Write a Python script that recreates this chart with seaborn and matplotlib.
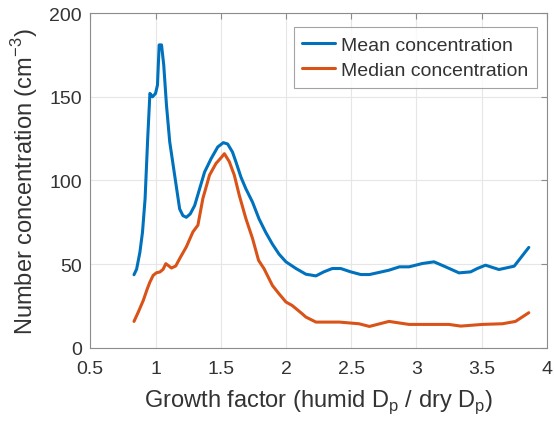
import matplotlib
matplotlib.use("Agg")
import matplotlib.pyplot as plt
import numpy as np
import pandas as pd
import seaborn as sns

# growth factor samples and concentrations
mean_gf = [0.835, 0.855, 0.88, 0.90, 0.92, 0.94, 0.957, 0.977, 1.0, 1.015, 1.028, 1.046,
           1.063, 1.084, 1.109, 1.147, 1.185, 1.21, 1.236, 1.266, 1.30, 1.338, 1.376,
           1.426, 1.477, 1.52, 1.553, 1.59, 1.617, 1.655, 1.693, 1.744, 1.794, 1.845,
           1.896, 1.947, 2.0, 2.077, 2.153, 2.23, 2.29, 2.355, 2.42, 2.497, 2.574, 2.64,
           2.71, 2.79, 2.87, 2.944, 3.046, 3.135, 3.224, 3.327, 3.416, 3.467, 3.53,
           3.633, 3.75, 3.862]
mean_conc = [43.7, 47, 57, 69, 89, 125, 152, 150, 152, 157, 181, 181,
             169, 145, 123, 103, 83, 79, 78, 80, 85, 95, 105,
             113, 120, 122.6, 121.8, 117, 111, 102, 95, 87, 77, 69,
             62, 56, 51.4, 47.4, 44, 43, 45.4, 47.4, 47.4, 45.4, 43.8, 43.8,
             45, 46.4, 48.4, 48.4, 50.4, 51.4, 48.4, 44.8, 45.4, 47.4, 49.4,
             46.8, 48.8, 60]

median_gf = [0.835, 0.868, 0.906, 0.937, 0.957, 0.982, 1.008, 1.033, 1.058, 1.079,
             1.096, 1.122, 1.155, 1.185, 1.236, 1.287, 1.325, 1.363, 1.414, 1.464,
             1.503, 1.528, 1.566, 1.604, 1.642, 1.693, 1.744, 1.79, 1.832, 1.896,
             1.947, 2.0, 2.048, 2.124, 2.153, 2.23, 2.41, 2.56, 2.64, 2.79, 2.944,
             3.25, 3.34, 3.505, 3.66, 3.76, 3.862]
median_conc = [15.8, 21.4, 28.3, 35.3, 39.3, 43.3, 44.9, 45.3, 46.9, 50.3,
               49.3, 47.7, 48.9, 53.3, 60.3, 69.3, 73.3, 89.2, 103.2, 110.2,
               113.6, 116, 111.2, 103.2, 91.2, 77.2, 65.3, 52.3, 47.3, 37.3,
               32.3, 27.4, 25.3, 20.4, 18.4, 15.4, 15.4, 14.4, 12.8, 15.8, 14,
               14, 13, 14, 14.4, 15.8, 21]

x_ticks = [0.5, 1, 1.5, 2, 2.5, 3, 3.5, 4]
y_ticks = [0, 50, 100, 150, 200]

sns.set_theme(style="white")
plt.rcParams["font.family"] = ["Liberation Sans", "DejaVu Sans"]

fig = plt.figure(figsize=(5.54, 4.27), dpi=100)
ax = fig.add_axes([0.163, 0.183, 0.824, 0.784])

sns.lineplot(x=mean_gf, y=mean_conc, ax=ax, color="#0072BD", linewidth=2.2,
             label="Mean concentration")
sns.lineplot(x=median_gf, y=median_conc, ax=ax, color="#D95319", linewidth=2.2,
             label="Median concentration")

ax.set_xlim(0.5, 4)
ax.set_ylim(0, 200)
ax.set_xticks(x_ticks)
ax.set_xticklabels([f"{t:g}" for t in x_ticks])
ax.set_yticks(y_ticks)
ax.grid(True, color="#e6e6e6", linewidth=0.8)
ax.tick_params(direction="in", length=4, width=0.8, colors="#8c8c8c",
               labelcolor="#333333", labelsize=14, top=True, right=True,
               labeltop=False, labelright=False)
ax.tick_params(axis="x", pad=9)
ax.tick_params(axis="y", pad=6)
for s in ax.spines.values():
    s.set_color("#8c8c8c")
    s.set_linewidth(0.8)

ax.set_xlabel("Growth factor (humid D$_\\mathregular{p}$ / dry D$_\\mathregular{p}$)",
              fontsize=17, color="#333333", labelpad=7)
ax.set_ylabel("Number concentration (cm$^\\mathregular{-3}$)",
              fontsize=17, color="#333333", labelpad=7)

leg = ax.legend(loc="upper right", bbox_to_anchor=(0.979, 0.958), fontsize=14,
                frameon=True, fancybox=False, handlelength=1.7, handletextpad=0.3,
                borderpad=0.45, labelspacing=0.4, borderaxespad=0)
leg.get_frame().set_edgecolor("#8c8c8c")
leg.get_frame().set_linewidth(0.8)
for t in leg.get_texts():
    t.set_color("#333333")

fig.savefig("out.png", dpi=100)
